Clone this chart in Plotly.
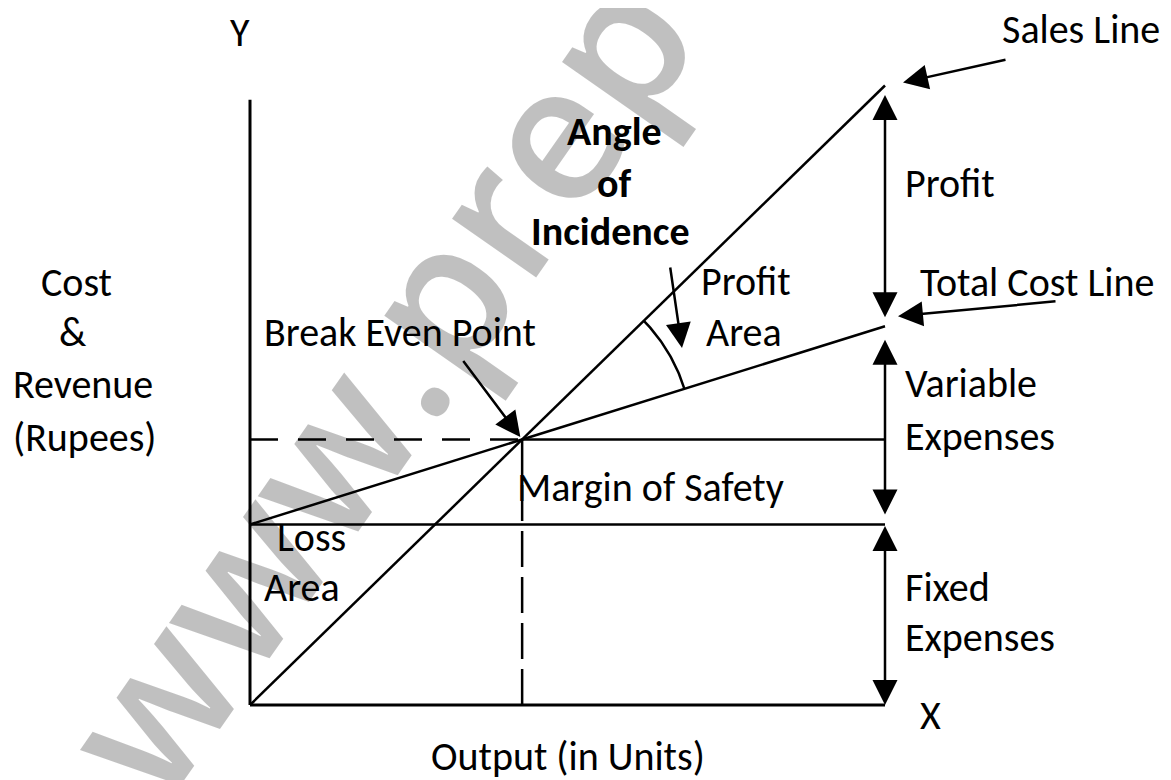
import math
import plotly.graph_objects as go

# ---------------- data ----------------
output_units = [0, 300, 700]           # output (units)
sales_revenue = [0, 30000, 70000]      # sales line (Rupees)
total_cost = [20400, 30000, 42800]     # total cost line (Rupees)
fixed_cost = 20400                     # fixed expenses (Rupees)
bep_units = 300                        # break-even output
bep_value = 30000                      # break-even revenue
max_units = 700
y_axis_top = 68400

W, H = 1171, 780
OFF = 8                                # page body margin
FW, FH = W - OFF, H - OFF
X0_PX, X1_PX = 250, 885
Y0_PX = 705
SX = (X1_PX - X0_PX) / max_units       # px per unit
SY = 0.00885                           # px per rupee
x_range = [(OFF - X0_PX) / SX, (W - X0_PX) / SX]
y_range = [-(H - Y0_PX) / SY, (Y0_PX - OFF) / SY]

FONT = "Calibri, Carlito, Lato, sans-serif"
FS = 40
BLACK = "#000000"


def px(x):
    return (x - OFF) / FW


def py(y):
    return 1 - (y - OFF) / FH


fig = go.Figure()


def line(xs, ys, width=2.5, dash=None):
    fig.add_trace(go.Scatter(x=xs, y=ys, mode="lines",
                             line=dict(color=BLACK, width=width, dash=dash),
                             hoverinfo="skip", showlegend=False))


# axes
line([0, 0], [0, y_axis_top], width=3)
line([0, max_units], [0, 0], width=3)
# sales line, total cost line
line(output_units, sales_revenue)
line(output_units, total_cost)
# fixed cost line
line([0, max_units], [fixed_cost, fixed_cost])
# margin of safety line at BEP level
line([bep_units, max_units], [bep_value, bep_value])
# dashed BEP guides
line([0, bep_units], [bep_value, bep_value], dash="28px,20px")
line([bep_units, bep_units], [0, bep_value], dash="36px,10px")

# angle of incidence arc (circle in pixel space around BEP)
a_sales = math.atan2((sales_revenue[2] - bep_value) * SY, (output_units[2] - bep_units) * SX)
a_cost = math.atan2((total_cost[2] - bep_value) * SY, (output_units[2] - bep_units) * SX)
R = 170
arc_x, arc_y = [], []
n = 40
for i in range(n + 1):
    t = a_cost + (a_sales - a_cost) * i / n
    arc_x.append(bep_units + R * math.cos(t) / SX)
    arc_y.append(bep_value + R * math.sin(t) / SY)
line(arc_x, arc_y, width=2.5)

ann = []

# watermark (translucent so black marks stay black on top of it)
ann.append(dict(text="www.prep", x=px(374), y=py(382), xref="paper", yref="paper",
                showarrow=False, textangle=-55, xanchor="center", yanchor="middle",
                font=dict(family="Open Sans, Liberation Sans, sans-serif", size=190,
                          weight=600, color="rgba(0,0,0,0.247)")))


def text(s, x, y, anchor="center", bold=False, size=FS):
    ann.append(dict(text=("<b>%s</b>" % s) if bold else s, x=px(x), y=py(y),
                    xref="paper", yref="paper", xanchor=anchor, yanchor="middle",
                    showarrow=False, font=dict(family=FONT, size=size, color=BLACK)))


ARW = dict(arrowcolor=BLACK, arrowwidth=2.5, arrowhead=2, arrowsize=2.0,
           startarrowhead=2, startarrowsize=2.0)


def double_arrow(x, y_from, y_to, s0, s1):
    ann.append(dict(text="", x=x, y=y_to, ax=x, ay=y_from, xref="x", yref="y",
                    axref="x", ayref="y", showarrow=True, arrowside="end+start",
                    standoff=s1, startstandoff=s0, **ARW))


double_arrow(max_units, sales_revenue[2], total_cost[2], 8, 9)
double_arrow(max_units, total_cost[2], fixed_cost, 12, 10)
double_arrow(max_units, fixed_cost, 0, 0, 0)

# pointer arrows
ann.append(dict(text="", x=max_units, y=sales_revenue[2], xref="x", yref="y",
                xshift=18, yshift=3, ax=104, ay=-23, showarrow=True, **ARW))
ann.append(dict(text="", x=max_units, y=total_cost[2], xref="x", yref="y",
                xshift=13, yshift=10, ax=159, ay=-15, showarrow=True, **ARW))
ann.append(dict(text="", x=bep_units, y=bep_value, xref="x", yref="y",
                standoff=3, ax=-60, ay=-80, showarrow=True, **ARW))
ann.append(dict(text="", x=px(682), y=py(348), xref="paper", yref="paper",
                ax=-12, ay=-82, showarrow=True, **ARW))

# labels
text("Y", 240, 32)
text("X", 930, 715)
text("Sales Line", 1000, 30, "left")
text("Profit", 903, 183, "left")
text("Total Cost Line", 918, 283, "left")
text("Variable", 903, 384, "left")
text("Expenses", 903, 436, "left")
text("Fixed", 903, 587, "left")
text("Expenses", 903, 637, "left")
text("Angle", 614, 131, bold=True)
text("of", 614, 183, bold=True)
text("Incidence", 610, 231, bold=True)
text("Profit", 746, 282)
text("Area", 744, 333)
text("Break Even Point", 262, 333, "left")
text("Cost", 76, 283)
text("&", 73, 333)
text("Revenue", 83, 385)
text("(Rupees)", 84, 437)
text("Margin of Safety", 515, 487, "left")
text("Loss", 275, 537, "left")
text("Area", 262, 587, "left")
text("Output (in Units)", 568, 756)

fig.update_layout(
    width=FW, height=FH, margin=dict(l=0, r=0, t=0, b=0),
    paper_bgcolor="white", plot_bgcolor="white", showlegend=False,
    xaxis=dict(range=x_range, visible=False, fixedrange=True),
    yaxis=dict(range=y_range, visible=False, fixedrange=True),
    annotations=ann,
)

fig.write_html("out.html")
